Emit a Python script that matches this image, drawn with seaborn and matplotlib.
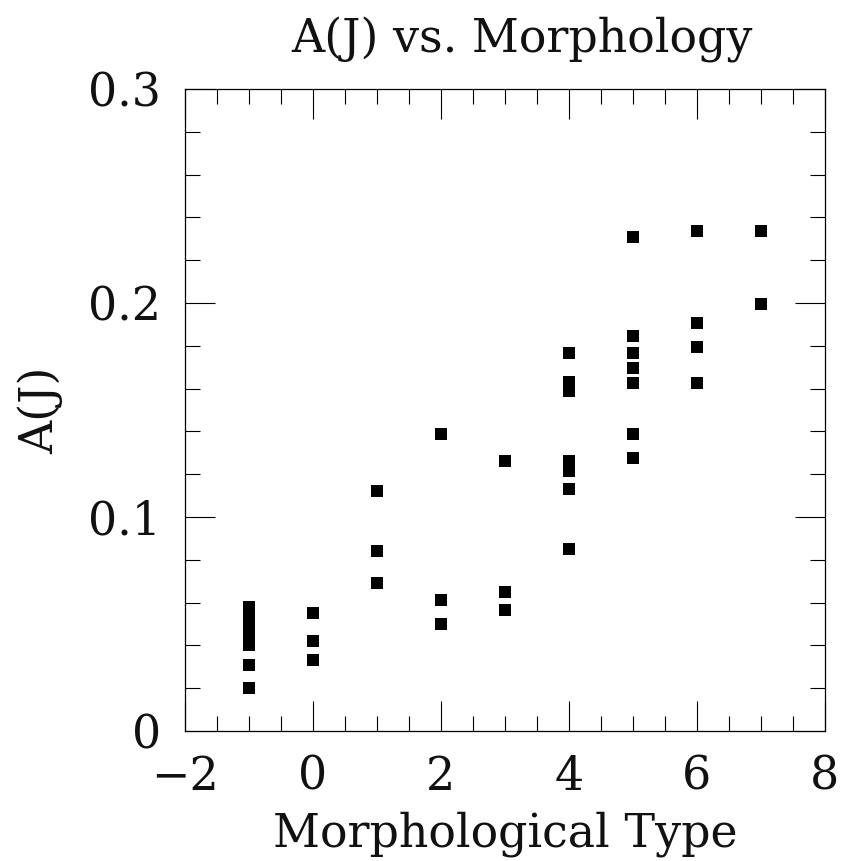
import matplotlib
matplotlib.use("Agg")
import matplotlib.pyplot as plt
import seaborn as sns
import pandas as pd
from matplotlib.ticker import MultipleLocator, FuncFormatter

# Datos
morph_type = [-1, -1, -1, -1, -1, -1, -1, -1, -1,
              0, 0, 0,
              1, 1, 1,
              2, 2, 2,
              3, 3, 3,
              4, 4, 4, 4, 4, 4, 4, 4,
              5, 5, 5, 5, 5, 5, 5,
              6, 6, 6, 6,
              7, 7]
a_j = [0.020, 0.031, 0.040, 0.043, 0.046, 0.049, 0.052, 0.055, 0.058,
       0.033, 0.042, 0.055,
       0.069, 0.084, 0.112,
       0.050, 0.061, 0.139,
       0.0565, 0.065, 0.126,
       0.085, 0.113, 0.1215, 0.126, 0.159, 0.163, 0.1766, 0.1766,
       0.1276, 0.139, 0.1626, 0.1696, 0.1766, 0.1846, 0.231,
       0.1626, 0.1794, 0.1907, 0.2336,
       0.1995, 0.2336]

df = pd.DataFrame({"Morphological Type": morph_type, "A(J)": a_j})

sns.set_theme(style="ticks")
plt.rcParams["font.family"] = ["DejaVu Serif"]

fig = plt.figure(figsize=(8.44, 8.61), dpi=100)
ax = fig.add_axes([0.219, 0.151, 0.7583, 0.7457])

sns.scatterplot(data=df, x="Morphological Type", y="A(J)", marker="s",
                s=80, color="black", linewidth=0, ax=ax)

ax.set_xlim(-2, 8)
ax.set_ylim(0, 0.3)
ax.xaxis.set_major_locator(MultipleLocator(2))
ax.xaxis.set_minor_locator(MultipleLocator(0.5))
ax.yaxis.set_major_locator(MultipleLocator(0.1))
ax.yaxis.set_minor_locator(MultipleLocator(0.02))
ax.xaxis.set_major_formatter(FuncFormatter(lambda v, p: f"{v:.0f}".replace("-", "\u2212")))
ax.yaxis.set_major_formatter(FuncFormatter(lambda v, p: "0" if v == 0 else f"{v:.1f}"))

ax.tick_params(which="both", direction="in", top=True, right=True,
               width=0.8, color="black", labelsize=33, labelcolor="#111111")
ax.tick_params(which="major", length=21.6, pad=17)
ax.tick_params(which="minor", length=10.8)
for s in ax.spines.values():
    s.set_linewidth(0.9)
    s.set_color("black")

ax.set_xlabel("Morphological Type", fontsize=33, labelpad=8, color="#111111")
ax.set_ylabel("A(J)", fontsize=33, labelpad=18, color="#111111")
ax.set_title("A(J) vs. Morphology", fontsize=33, pad=26, x=0.527, color="#111111")

fig.savefig("out.png", dpi=100)
